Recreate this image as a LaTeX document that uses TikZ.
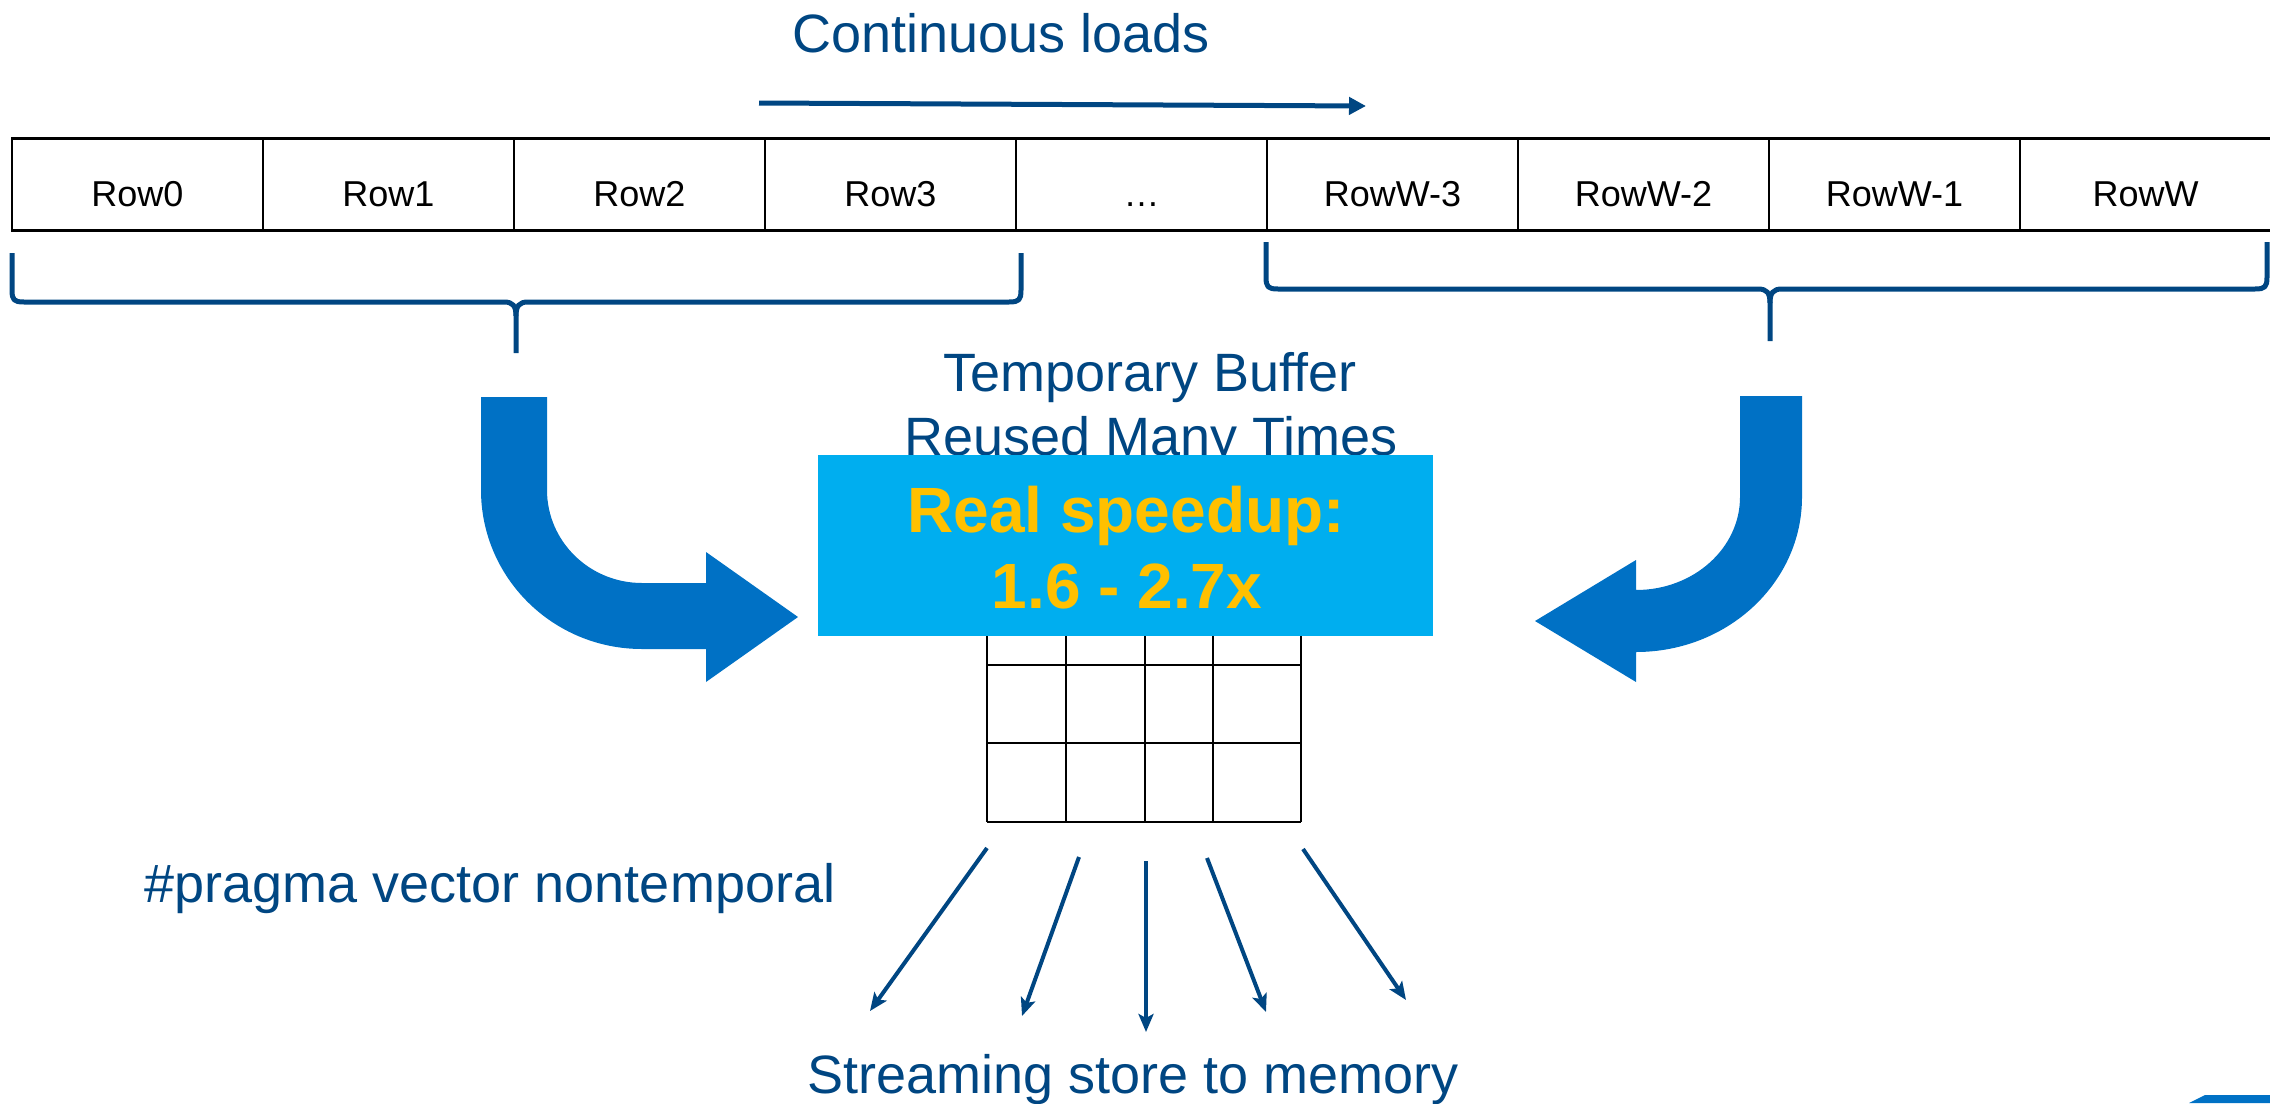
\documentclass[tikz,border=0pt]{standalone}
\usepackage{fontspec}
\setmainfont{Liberation Sans}
\usetikzlibrary{arrows.meta}
\definecolor{dblue}{RGB}{0,70,130}
\definecolor{iblue}{RGB}{0,113,197}
\definecolor{cyanbox}{RGB}{0,174,239}
\definecolor{gold}{RGB}{255,192,0}
\tikzset{
  rowcell/.style={draw=black, line width=2.5pt, minimum width=251pt, minimum height=92pt,
    inner sep=0pt, text height=43pt, text depth=0pt, font=\fontsize{36}{40}\selectfont},
  bluetext/.style={text=dblue, font=\fontsize{54}{64}\selectfont, anchor=base, inner sep=0pt},
  speedtext/.style={text=gold, font=\bfseries\fontsize{64}{76}\selectfont, anchor=base, inner sep=0pt},
  bracepath/.style={draw=dblue, line width=5pt, line join=round},
  bentarrow/.style={fill=iblue, draw=none},
  streamarrow/.style={draw=dblue, line width=4pt, -{Stealth[length=18pt,width=15pt,inset=4pt]}},
  loadarrow/.style={draw=dblue, line width=5pt, -{Triangle[length=17pt,width=17pt]}},
  gridline/.style={draw=black, line width=2.5pt}
}
\begin{document}
\begin{tikzpicture}[x=1pt,y=-1pt]
\useasboundingbox (0,0) rectangle (2270,1103);

% title and load arrow
\node[bluetext] (title) at (1001,52) {Continuous loads};
\coordinate (la) at (759,103);
\coordinate (lb) at (1366,106);
\draw[loadarrow] (la) -- (lb);

% row of cells
\foreach \i/\t in {0/Row0,1/Row1,2/Row2,3/Row3,4/…,5/RowW-3,6/RowW-2,7/RowW-1,8/RowW}{
  \node[rowcell] (c\i) at ({137.5+251*\i},184.5) {\t};
}

% braces
\draw[bracepath] (12,253) -- (12,290) .. controls (12,300) and (14,302) .. (24,302)
  -- (504,302) .. controls (513,302) and (516,306) .. (516,316) -- (516,353);
\draw[bracepath] (1021,253) -- (1021,290) .. controls (1021,300) and (1019,302) .. (1009,302)
  -- (528,302) .. controls (519,302) and (516,306) .. (516,316);
\draw[bracepath] (1266,242) -- (1266,277) .. controls (1266,287) and (1268,289) .. (1278,289)
  -- (1758,289) .. controls (1767,289) and (1770,293) .. (1770,303) -- (1770,341);
\draw[bracepath] (2267,242) -- (2267,277) .. controls (2267,287) and (2265,289) .. (2255,289)
  -- (1782,289) .. controls (1773,289) and (1770,293) .. (1770,303);

% bent arrows
\fill[bentarrow] (481,397) -- (547,397) -- (547,490)
  arc[start angle=180, end angle=90, x radius=95, y radius=93]
  -- (706,583) -- (706,552) -- (798,617) -- (706,682) -- (706,649) -- (642,649)
  arc[start angle=90, end angle=180, x radius=161, y radius=159] -- cycle;
\fill[bentarrow] (1802,396) -- (1740,396) -- (1740,497)
  arc[start angle=0, end angle=90, x radius=104, y radius=93]
  -- (1636,560) -- (1535,621) -- (1636,682) -- (1636,652)
  arc[start angle=90, end angle=0, x radius=166, y radius=155] -- cycle;

% temporary buffer text
\node[bluetext] (tb1) at (1150,391) {Temporary Buffer};
\node[bluetext] (tb2) at (1151,455) {Reused Many Times};

% grid
\foreach \x in {987,1066,1145,1213,1301}{ \draw[gridline] (\x,586) -- (\x,822); }
\foreach \y in {586,665,743,822}{ \draw[gridline] (987,\y) -- (1301,\y); }

% speedup box
\node[fill=cyanbox, minimum width=615pt, minimum height=181pt, inner sep=0pt] (box) at (1125.5,545.5) {};
\node[speedtext] (sp1) at (1126,532) {Real speedup:};
\node[speedtext] (sp2) at (1127,608) {1.6 - 2.7x};

% pragma
\node[bluetext] (pragma) at (490,902) {\#pragma vector nontemporal};

% stream arrows
\coordinate (s1a) at (987,848);  \coordinate (s1b) at (870,1011);
\coordinate (s2a) at (1079,857); \coordinate (s2b) at (1022,1016);
\coordinate (s3a) at (1146,861); \coordinate (s3b) at (1146,1032);
\coordinate (s4a) at (1207,858); \coordinate (s4b) at (1266,1012);
\coordinate (s5a) at (1303,849); \coordinate (s5b) at (1406,1000);
\foreach \k in {1,...,5}{ \draw[streamarrow] (s\k a) -- (s\k b); }

\node[bluetext] (stream) at (1133,1093) {Streaming store to memory};

% corner shape
\fill[iblue] (2189,1103) -- (2205,1095) -- (2270,1095) -- (2270,1103) -- cycle;
\end{tikzpicture}
\end{document}
